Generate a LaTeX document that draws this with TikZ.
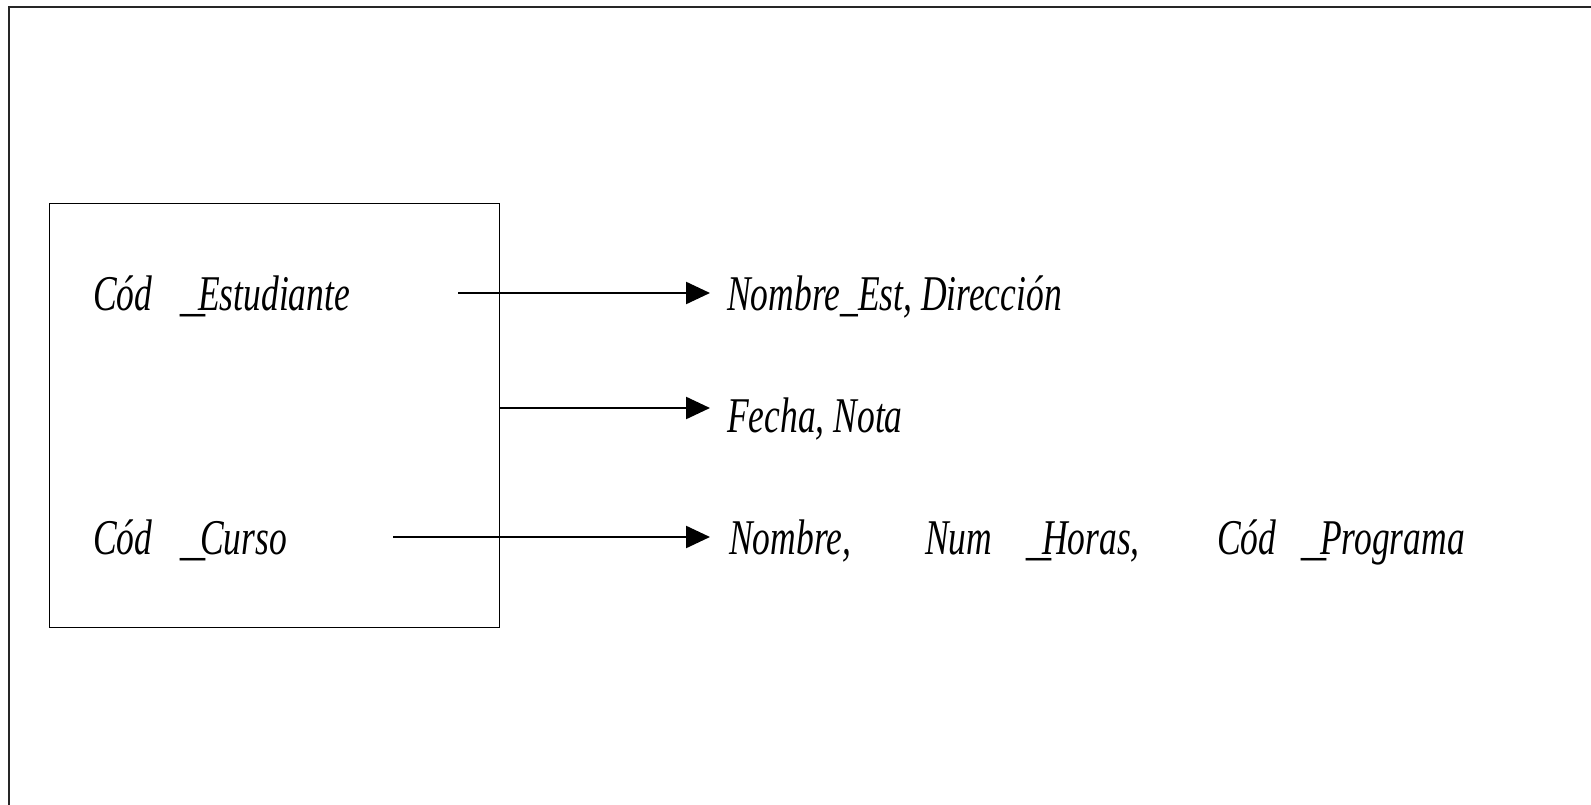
\documentclass[tikz,border=0pt]{standalone}
\usepackage{fontspec}
\newfontfamily\narrow{Liberation Serif}[FakeStretch=0.71]
\newfontfamily\plainserif{Liberation Serif}
\usetikzlibrary{arrows.meta}
\tikzset{
  frame/.style={draw=black!85, line width=1.6pt},
  relbox/.style={draw, line width=1.4pt, inner sep=0pt, anchor=north west},
  link/.style={line width=2.4pt, -{Triangle[length=24pt,width=22pt]}},
  lbl/.style={anchor=base west, inner sep=0pt, font=\narrow\itshape\fontsize{50}{60}\selectfont},
  bar/.style={anchor=base west, inner sep=0pt, font=\plainserif\itshape\fontsize{50}{60}\selectfont},
}
\begin{document}
\begin{tikzpicture}[x=1pt, y=-1pt]
\useasboundingbox (0,0) rectangle (1591,805);
% outer page frame (only top and left edges fall inside the page)
\draw[frame] (9,805) -- (9,7) -- (1591,7);

% relation box
\node[relbox, minimum width=450pt, minimum height=424pt] (rel) at (49,203) {};

% key attributes inside the box
\node[lbl] (k1a) at (93,310) {Cód};
\node[bar] (k1b) at (180,310) {\_};
\node[lbl] (k1c) at (198,310) {Estudiante};
\node[lbl] (k2a) at (93,554) {Cód};
\node[bar] (k2b) at (180,554) {\_};
\node[lbl] (k2c) at (200,554) {Curso};

% dependent attributes
\node[lbl] (d1) at (727,310) {Nombre\_Est, Dirección};
\node[lbl] (d2) at (727,432) {Fecha, Nota};
\node[lbl] (d3a) at (729,554) {Nombre,};
\node[lbl] (d3b) at (925,554) {Num};
\node[bar] (d3c) at (1026,554) {\_};
\node[lbl] (d3d) at (1042,554) {Horas,};
\node[lbl] (d3e) at (1217,554) {Cód};
\node[bar] (d3f) at (1301,554) {\_};
\node[lbl] (d3g) at (1320,554) {Programa};

% connector end points
\coordinate (s1) at (458,293);
\coordinate (e1) at (710,293);
\coordinate (e2) at (710,408);
\coordinate (s3) at (393,537);
\coordinate (e3) at (710,537);

% functional dependencies
\draw[link] (s1) -- (e1);
\draw[link] (rel.east |- e2) -- (e2);
\draw[link] (s3) -- (e3);
\end{tikzpicture}
\end{document}
